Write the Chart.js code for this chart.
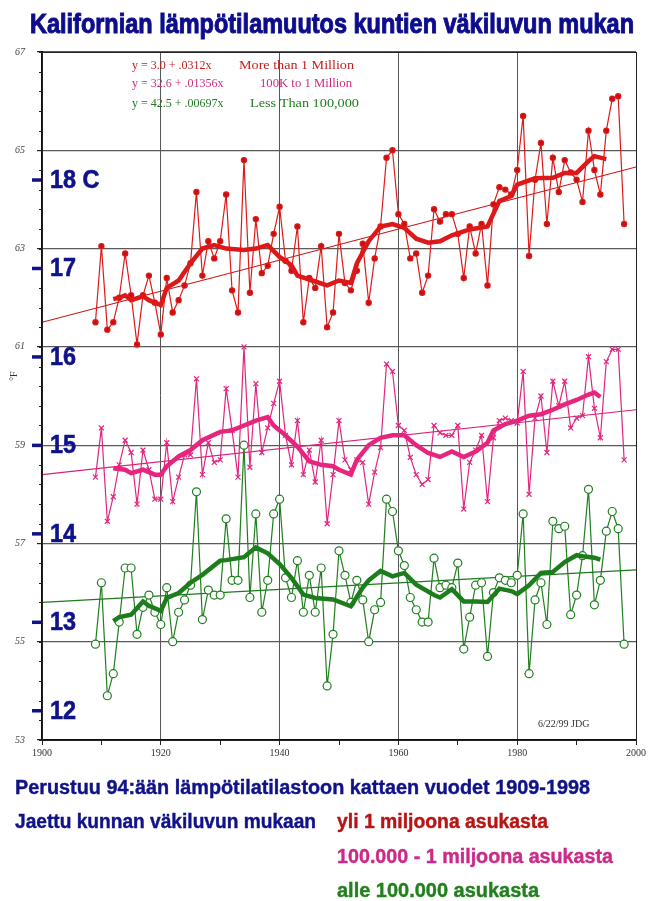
<!DOCTYPE html>
<html>
<head>
<meta charset="utf-8">
<script src="https://cdn.jsdelivr.net/npm/chart.js@4.4.0/dist/chart.umd.min.js"></script>
<style>
  html, body { margin: 0; padding: 0; background: #fff; }
</style>
</head>
<body>
<canvas id="chart" width="657" height="901"></canvas>
<script>
// yearly mean temperatures (°F), 1909-1998
const firstYear = 1909;
const bigCities = [61.5, 63.05, 61.35, 61.5, 62.0, 62.9, 62.05, 61.05, 62.05, 62.45,
  61.9, 61.25, 62.4, 61.7, 61.95, 62.25, 62.7, 64.15, 62.45, 63.15,
  62.8, 63.15, 64.1, 62.15, 61.7, 64.8, 62.1, 63.6, 62.5, 62.65,
  63.3, 63.85, 62.75, 62.55, 63.45, 61.5, 62.4, 62.2, 63.05, 61.4,
  61.7, 63.3, 62.3, 62.15, 62.55, 63.1, 61.9, 62.8, 63.45, 64.85,
  65.0, 63.7, 63.5, 62.8, 62.9, 62.1, 62.45, 63.8, 63.55, 63.7,
  63.7, 63.3, 62.4, 63.45, 62.9, 63.5, 62.25, 63.9, 64.25, 64.2,
  64.1, 64.6, 65.7, 62.85, 64.4, 65.15, 63.5, 64.85, 64.15, 64.8,
  64.55, 64.4, 63.95, 65.4, 64.6, 64.1, 65.4, 66.05, 66.1, 63.5];
const midCities = [58.35, 59.35, 57.45, 57.95, 58.6, 59.1, 58.85, 57.8, 58.9, 58.5,
  57.9, 57.9, 59.05, 57.85, 58.35, 58.8, 58.8, 60.35, 58.4, 59.05,
  58.65, 58.7, 60.15, 59.3, 58.35, 61.0, 58.55, 60.25, 58.85, 59.35,
  59.85, 60.3, 59.2, 58.6, 59.5, 58.4, 58.9, 58.25, 59.1, 57.4,
  58.4, 59.5, 58.7, 58.5, 58.7, 58.65, 57.8, 58.45, 58.95, 60.65,
  60.5, 59.4, 59.3, 58.75, 58.4, 58.2, 58.3, 59.4, 59.25, 59.2,
  59.2, 59.4, 57.7, 58.65, 58.9, 59.2, 57.85, 59.15, 59.5, 59.55,
  59.5, 59.45, 60.5, 58.0, 59.55, 60.0, 58.85, 60.3, 59.8, 60.3,
  59.35, 59.55, 59.6, 60.8, 59.75, 59.15, 60.7, 60.95, 60.95, 58.7];
const smallTowns = [54.95, 56.2, 53.9, 54.35, 55.4, 56.5, 56.5, 55.15, 55.7, 55.95,
  55.6, 55.35, 56.1, 55.0, 55.6, 55.85, 56.15, 58.05, 55.45, 56.05,
  55.95, 55.95, 57.5, 56.25, 56.25, 59.0, 55.9, 57.6, 55.6, 56.25,
  57.6, 57.9, 56.3, 55.9, 56.65, 55.6, 56.35, 55.6, 56.5, 54.1,
  55.15, 56.85, 56.35, 55.8, 56.25, 55.85, 55.0, 55.65, 55.8, 57.9,
  57.65, 56.85, 56.55, 55.9, 55.65, 55.4, 55.4, 56.7, 56.1, 56.15,
  56.1, 56.6, 54.85, 55.5, 56.15, 56.2, 54.7, 56.0, 56.3, 56.25,
  56.2, 56.35, 57.6, 54.35, 55.85, 56.2, 55.35, 57.45, 57.3, 57.35,
  55.55, 55.95, 56.75, 58.1, 55.75, 56.25, 57.25, 57.65, 57.3, 54.95];
const years = bigCities.map((_, i) => firstYear + i);

// running means (thick lines)
const maYearsBig = [1912, 1913, 1914, 1915, 1917, 1918, 1920, 1921, 1923, 1925, 1927, 1929, 1931, 1934, 1936, 1938, 1940, 1942, 1943, 1946, 1948, 1950, 1952, 1953, 1955, 1957, 1959, 1961, 1963, 1965, 1967, 1969, 1972, 1975, 1977, 1979, 1980, 1983, 1986, 1988, 1990, 1992, 1993, 1995];
const maBig = [61.97, 62.0, 62.05, 61.95, 62.03, 61.95, 61.85, 62.2, 62.35, 62.7, 63.0, 63.07, 63.0, 62.97, 63.0, 63.07, 62.83, 62.66, 62.45, 62.33, 62.25, 62.35, 62.3, 62.7, 63.15, 63.45, 63.5, 63.42, 63.2, 63.12, 63.15, 63.27, 63.39, 63.45, 63.97, 64.07, 64.3, 64.43, 64.44, 64.54, 64.54, 64.78, 64.88, 64.82];
const maYearsMid = [1912, 1914, 1915, 1917, 1919, 1920, 1921, 1923, 1925, 1927, 1930, 1932, 1934, 1936, 1938, 1939, 1941, 1943, 1945, 1947, 1949, 1950, 1952, 1953, 1955, 1957, 1959, 1961, 1963, 1965, 1967, 1969, 1971, 1973, 1975, 1976, 1978, 1980, 1982, 1984, 1986, 1988, 1990, 1992, 1993, 1994];
const maMid = [58.53, 58.5, 58.43, 58.5, 58.4, 58.4, 58.57, 58.77, 58.9, 59.1, 59.27, 59.3, 59.4, 59.5, 59.57, 59.4, 59.2, 58.97, 58.67, 58.6, 58.57, 58.5, 58.4, 58.7, 59.0, 59.15, 59.2, 59.2, 59.0, 58.84, 58.76, 58.87, 58.76, 58.87, 59.05, 59.3, 59.43, 59.5, 59.6, 59.63, 59.72, 59.83, 59.92, 60.03, 60.07, 59.98];
const maYearsSmall = [1912, 1913, 1915, 1917, 1918, 1920, 1921, 1923, 1925, 1927, 1930, 1931, 1934, 1936, 1938, 1940, 1942, 1944, 1946, 1949, 1952, 1954, 1955, 1957, 1959, 1961, 1963, 1966, 1967, 1969, 1971, 1973, 1975, 1977, 1979, 1980, 1982, 1984, 1986, 1988, 1990, 1991, 1993, 1994];
const maSmall = [55.42, 55.5, 55.55, 55.82, 55.73, 55.63, 55.89, 55.99, 56.2, 56.36, 56.65, 56.66, 56.72, 56.92, 56.8, 56.58, 56.3, 55.96, 55.89, 55.86, 55.72, 56.1, 56.25, 56.44, 56.33, 56.4, 56.16, 55.95, 55.9, 56.07, 55.82, 55.82, 55.81, 56.08, 56.03, 55.97, 56.15, 56.4, 56.42, 56.62, 56.76, 56.74, 56.71, 56.67];

// linear trends, ends at 1900 and 2000
const trendYears = [1900, 2000];
const trendBig = [61.5, 64.66];
const trendMid = [58.4, 59.72];
const trendSmall = [55.8, 56.46];

const celsiusTicks = [18, 17, 16, 15, 14, 13, 12];
const celsiusLabels = ['18 C', '17', '16', '15', '14', '13', '12'];
const equations = [
  ['y = 3.0 + .0312x', 'More than 1 Million'],
  ['y = 32.6 + .01356x', '100K to 1 Million'],
  ['y = 42.5 + .00697x', 'Less Than 100,000']
];

const RED = '#dd1a1a', PINK = '#e0267e', GREEN = '#1f7f1f', NAVY = '#10128a';

function pts(xs, ys) { return ys.map((v, i) => ({ x: xs[i], y: v })); }

function drawText(ctx, str, x, y, font, color, opts) {
  opts = opts || {};
  ctx.save();
  ctx.font = font;
  ctx.fillStyle = color;
  ctx.textBaseline = 'middle';
  ctx.textAlign = 'left';
  const w = ctx.measureText(str).width;
  const sx = opts.width ? opts.width / w : (opts.sx || 1);
  ctx.translate(x, y);
  ctx.scale(sx, 1);
  if (opts.stroke) { ctx.strokeStyle = color; ctx.lineWidth = opts.stroke; ctx.strokeText(str, 0, 0); }
  ctx.fillText(str, 0, 0);
  ctx.restore();
}

const extras = {
  id: 'extras',
  beforeDatasetsDraw(chart) {
    const ctx = chart.ctx, ys = chart.scales.y, a = chart.chartArea;
    // minor ticks on the y axis
    ctx.save();
    ctx.strokeStyle = '#222';
    ctx.lineWidth = 1;
    for (let v = 53; v <= 67.01; v += 0.4) {
      const py = Math.round(ys.getPixelForValue(v)) + 0.5;
      ctx.beginPath(); ctx.moveTo(a.left - 3, py); ctx.lineTo(a.left, py); ctx.stroke();
    }
    ctx.restore();
    // Celsius marks
    celsiusTicks.forEach((c, i) => {
      const py = ys.getPixelForValue(c * 9 / 5 + 32);
      ctx.fillStyle = NAVY;
      ctx.fillRect(a.left - 10, py - 1.5, 9, 3.5);
      drawText(ctx, celsiusLabels[i], a.left + 8, py + 1, 'bold 26px "Liberation Sans"', NAVY, { sx: 0.9, stroke: 0.6 });
    });
    // equations
    const eqColors = ['#c41e1e', '#d02a80', '#237a23'];
    const eqY = [66, 84, 104];
    const labX = [239, 260, 250];
    const labW = [115, 92, 109];
    equations.forEach((e, i) => {
      drawText(ctx, e[0], 132, eqY[i], '12px "Liberation Serif"', eqColors[i]);
      drawText(ctx, e[1], labX[i], eqY[i], '12px "Liberation Serif"', eqColors[i], { width: labW[i] });
    });
    drawText(ctx, '6/22/99 JDG', 538, 724, '10px "Liberation Serif"', '#333');
  },
  afterDraw(chart) {
    const ctx = chart.ctx, a = chart.chartArea, ys = chart.scales.y;
    ctx.save();
    ctx.strokeStyle = '#222';
    ctx.lineWidth = 1;
    ctx.strokeRect(a.left + 0.5, a.top + 0.5, a.right - a.left, a.bottom - a.top);
    ctx.restore();
    // °F label
    ctx.save();
    ctx.translate(14, ys.getPixelForValue(60.4));
    ctx.rotate(-Math.PI / 2);
    ctx.font = '10px "Liberation Serif"';
    ctx.fillStyle = '#333';
    ctx.textAlign = 'center';
    ctx.textBaseline = 'middle';
    ctx.fillText('°F', 0, 0);
    ctx.restore();
    // title and notes
    drawText(ctx, 'Kalifornian lämpötilamuutos kuntien väkiluvun mukan', 30, 25,
      'bold 28px "Liberation Sans"', '#0c0c8c', { width: 604, stroke: 1 });
    drawText(ctx, 'Perustuu 94:ään lämpötilatilastoon kattaen vuodet 1909-1998', 15, 788,
      'bold 20px "Liberation Sans"', NAVY, { width: 575, stroke: 0.4 });
    drawText(ctx, 'Jaettu kunnan väkiluvun mukaan', 15, 822,
      'bold 20px "Liberation Sans"', NAVY, { width: 301, stroke: 0.4 });
    drawText(ctx, 'yli 1 miljoona asukasta', 337, 822,
      'bold 20px "Liberation Sans"', '#b81414', { width: 211, stroke: 0.4 });
    drawText(ctx, '100.000 - 1 miljoona asukasta', 337, 857,
      'bold 20px "Liberation Sans"', '#cc2a88', { width: 276, stroke: 0.4 });
    drawText(ctx, 'alle 100.000 asukasta', 337, 891,
      'bold 20px "Liberation Sans"', '#23801f', { width: 202, stroke: 0.4 });
  }
};

function rawSet(data, color, style, radius, fill) {
  return {
    data: pts(years, data), borderColor: color, borderWidth: 1.2, order: 1,
    pointStyle: style, pointRadius: radius, pointBorderColor: color,
    pointBackgroundColor: fill, pointBorderWidth: 1.2
  };
}
function maSet(xs, data, color) {
  return { data: pts(xs, data), borderColor: color, borderWidth: 4.5, pointRadius: 0, order: 0 };
}
function trendSet(data, color) {
  return { data: pts(trendYears, data), borderColor: color, borderWidth: 1.2, pointRadius: 0, order: 2 };
}

new Chart(document.getElementById('chart'), {
  type: 'line',
  data: {
    datasets: [
      maSet(maYearsBig, maBig, '#dc1818'),
      maSet(maYearsMid, maMid, '#e6257f'),
      maSet(maYearsSmall, maSmall, '#1d7d1d'),
      rawSet(bigCities, RED, 'circle', 2.6, '#c81010'),
      rawSet(midCities, PINK, 'crossRot', 3.5, PINK),
      rawSet(smallTowns, GREEN, 'circle', 4, '#fff'),
      trendSet(trendBig, '#c81414'),
      trendSet(trendMid, '#d8207a'),
      trendSet(trendSmall, '#1d7a1d')
    ]
  },
  options: {
    responsive: false,
    devicePixelRatio: 1,
    animation: false,
    layout: { padding: { top: 52, right: 21, left: 0, bottom: 0 } },
    plugins: { legend: { display: false }, tooltip: { enabled: false } },
    elements: { line: { tension: 0 } },
    scales: {
      x: {
        type: 'linear', min: 1900, max: 2000,
        afterFit(s) { s.height = 161; },
        ticks: {
          stepSize: 10, autoSkip: false, maxRotation: 0, padding: 2,
          font: { family: 'Liberation Serif', size: 10 }, color: '#333',
          callback: v => (v % 20 === 0 ? String(v) : '')
        },
        grid: {
          color: c => (c.tick && c.tick.value % 20 === 0 && c.tick.value > 1900 && c.tick.value < 2000) ? '#555' : 'rgba(0,0,0,0)',
          tickColor: '#222', tickLength: 5, lineWidth: 1
        },
        border: { color: '#111', width: 2 }
      },
      y: {
        min: 53, max: 67,
        afterFit(s) { s.width = 42; },
        ticks: {
          stepSize: 2, padding: 12,
          font: { family: 'Liberation Serif', size: 10, style: 'italic' }, color: '#444'
        },
        grid: { color: '#5a5a5a', tickColor: '#222', tickLength: 5, lineWidth: 1.2 },
        border: { color: '#111', width: 2 }
      }
    }
  },
  plugins: [extras]
});
</script>
</body>
</html>
